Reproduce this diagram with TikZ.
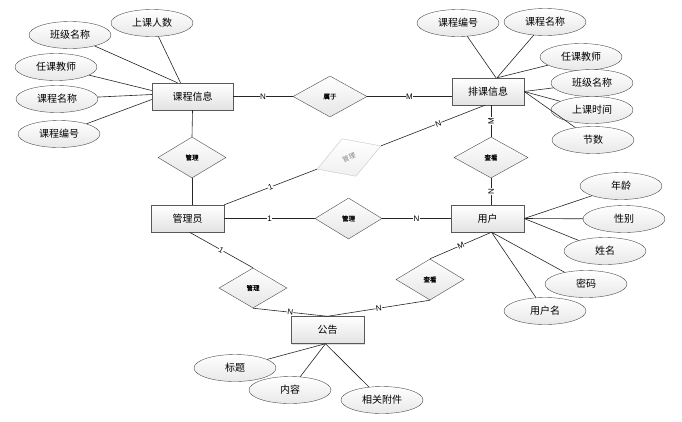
\documentclass[tikz,border=0pt]{standalone}
\usepackage{fontspec}
\setmainfont{Liberation Sans}
\newfontfamily\cjk{Noto Sans CJK SC}
\newfontfamily\cjkb[FakeBold=1.2]{Noto Sans CJK SC}
\usetikzlibrary{shapes.geometric,shadows}
\begin{document}
\begin{tikzpicture}[x=1pt,y=-1pt,
  ent/.style={draw=gray!70!black, top color=white, bottom color=gray!22,
    drop shadow={opacity=.25,shadow xshift=1.2pt,shadow yshift=-1.2pt},
    minimum width=73pt, minimum height=27pt, inner sep=0pt,
    font=\cjk\fontsize{10}{12}\selectfont},
  attr/.style={ellipse, draw=gray!60!black, top color=white, bottom color=gray!18,
    minimum width=82pt, minimum height=27pt, inner sep=0pt,
    font=\cjk\fontsize{10}{12}\selectfont},
  rel/.style={diamond, draw=gray!60!black, top color=white, bottom color=gray!20,
    minimum width=70pt, minimum height=41pt, inner sep=0pt,
    font=\cjkb\fontsize{6.5}{7}\selectfont},
  faded/.style={diamond, draw=gray!45, top color=white, bottom color=gray!12,
    minimum width=68pt, minimum height=40pt, inner sep=0pt, text=gray,
    font=\cjk\fontsize{6.5}{7}\selectfont},
  ln/.style={draw=gray!30!black, line width=0.6pt},
  card/.style={fill=white, inner sep=0.3pt, font=\fontsize{8}{9}\selectfont}
]
\fill[white] (0,0) rectangle (682,421);
\useasboundingbox (0,0) rectangle (682,421);

% entities
\node[ent, minimum width=81pt] (kc) at (192.5,96.5) {课程信息};
\node[ent, minimum width=72pt] (pk) at (488,91.5) {排课信息};
\node[ent] (gly) at (187.5,218.5) {管理员};
\node[ent] (yh) at (487.5,218.5) {用户};
\node[ent] (gg) at (327.5,330) {公告};

% relationships
\node[rel, minimum width=74pt] (sy) at (330,96.5) {属于};
\node[rel, minimum width=68pt] (d1) at (192,157.5) {管理};
\node[faded, rotate=20] (df) at (349,157.5) {管理};
\node[rel, minimum width=74pt] (ck1) at (491,157.5) {查看};
\node[rel, minimum width=67pt] (d2) at (348.5,218.5) {管理};
\node[rel, minimum width=68pt, minimum height=40pt] (d3) at (253,288) {管理};
\node[rel, minimum width=68pt] (ck2) at (430,279.5) {查看};

% attributes of 课程信息
\node[attr] (a1) at (152,23) {上课人数};
\node[attr] (a2) at (70,35) {班级名称};
\node[attr] (a3) at (56,67) {任课教师};
\node[attr] (a4) at (57,99) {课程名称};
\node[attr] (a5) at (59,134) {课程编号};
% attributes of 排课信息
\node[attr] (b1) at (458,23) {课程编号};
\node[attr] (b2) at (545,22) {课程名称};
\node[attr] (b3) at (581,57) {任课教师};
\node[attr] (b4) at (592,83) {班级名称};
\node[attr] (b5) at (592,110) {上课时间};
\node[attr] (b6) at (593,140) {节数};
% attributes of 用户
\node[attr] (c1) at (621,186) {年龄};
\node[attr] (c2) at (624,219) {性别};
\node[attr] (c3) at (605,251) {姓名};
\node[attr] (c4) at (586,284) {密码};
\node[attr] (c5) at (545,311) {用户名};
% attributes of 公告
\node[attr] (e1) at (235,368) {标题};
\node[attr] (e2) at (290,390) {内容};
\node[attr] (e3) at (382,400) {相关附件};

% attribute lines
\draw[ln] (a1) -- ([xshift=-12pt]kc.north);
\draw[ln] (a2) -- ([xshift=-15pt]kc.north);
\draw[ln] (a3) -- ([yshift=6pt]kc.west);
\draw[ln] (a4) -- ([yshift=2pt]kc.west);
\draw[ln] (a5) -- ([yshift=-3pt]kc.west);
\draw[ln] (b1) -- ([xshift=8pt]pk.north);
\draw[ln] (b2) -- ([xshift=9pt]pk.north);
\draw[ln] (b3) -- ([xshift=9pt]pk.north);
\draw[ln] (b4) -- (pk.east);
\draw[ln] (b5) -- (pk.east);
\draw[ln] (b6) -- (pk.east);
\draw[ln] (c1) -- (yh.east);
\draw[ln] (c2) -- (yh.east);
\draw[ln] (c3) -- (yh.east);
\draw[ln] (c4) -- ([xshift=4pt]yh.south);
\draw[ln] (c5) -- ([xshift=4pt]yh.south);
\draw[ln] (e1) -- ([xshift=-2pt]gg.south);
\draw[ln] (e2) -- ([xshift=-2pt]gg.south);
\draw[ln] (e3) -- ([xshift=-2pt]gg.south);

% relationship lines
\draw[ln] (kc.east) -- node[card]{N} (sy.west);
\draw[ln] (sy.east) -- node[card]{M} (sy.east -| pk.west);
\draw[ln] (kc.south) -- (d1.north);
\draw[ln] (d1.south) -- (d1.south |- gly.north);
\draw[ln] (gly.north east) -- node[card, sloped]{1} (df.west);
\draw[ln] (df.east) -- node[card, sloped, pos=.55]{N} ([xshift=-3pt]pk.south);
\draw[ln] (ck1.north |- pk.south) -- node[card, rotate=90]{M} (ck1.north);
\draw[ln] (ck1.south) -- node[card, rotate=90]{N} (ck1.south |- yh.north);
\draw[ln] (gly.east) -- node[card]{1} (d2.west);
\draw[ln] (d2.east) -- node[card]{N} (yh.west);
\draw[ln] ([xshift=2pt]gly.south) -- node[card, sloped]{1} (d3.north);
\draw[ln] (d3.south) -- node[card, sloped]{N} (gg.north);
\draw[ln] ([xshift=4pt]yh.south) -- node[card, sloped]{M} (ck2.north);
\draw[ln] (ck2.south) -- node[card, sloped]{N} (gg.north);
\end{tikzpicture}
\end{document}
